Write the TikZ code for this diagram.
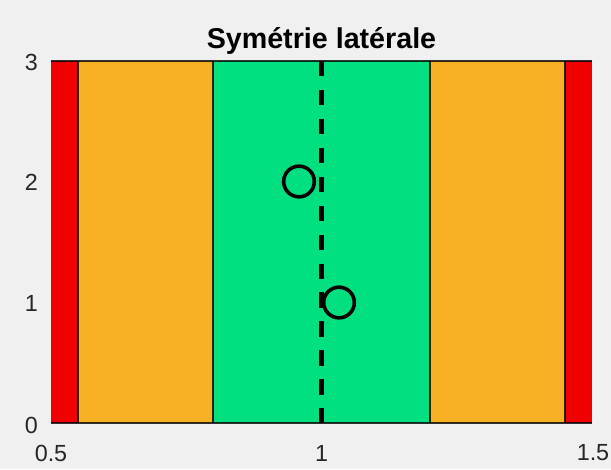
\documentclass[tikz,border=0pt]{standalone}
\usepackage{fontspec}
\setmainfont{Liberation Sans}
\definecolor{figbg}{RGB}{240,240,240}
\definecolor{zonered}{RGB}{240,0,0}
\definecolor{zoneorange}{RGB}{248,176,36}
\definecolor{zonegreen}{RGB}{0,224,128}
\definecolor{ticktext}{RGB}{38,38,38}
\tikzset{
  ticklabel/.style={inner sep=0pt, text=ticktext, font=\fontsize{17.5}{20}\selectfont},
  zoneedge/.style={draw=black, draw opacity=0.8, line width=1.1pt},
  marker/.style={draw=black, line width=2.7pt},
}
\begin{document}
\begin{tikzpicture}[x=0.75pt, y=-0.75pt]
  % figure background and page size
  \fill[figbg] (0,0) rectangle (611,469);
  \useasboundingbox (0,0) rectangle (611,469);

  % axis range: x 0.5..1.5 -> 51..592, y 0..3 -> 423..61
  \coordinate (tl) at (51,61);
  \coordinate (br) at (592,423);

  % coloured zones
  \fill[zonered]    (51,61)  rectangle (78,423);
  \fill[zoneorange] (78,61)  rectangle (213,423);
  \fill[zonegreen]  (213,61) rectangle (430,423);
  \fill[zoneorange] (430,61) rectangle (565,423);
  \fill[zonered]    (565,61) rectangle (592,423);

  % zone borders
  \draw[zoneedge] (51,61) -- (592,61);
  \draw[zoneedge] (51,423) -- (592,423);
  \foreach \xb in {78,213,430,565} {
    \draw[zoneedge] (\xb,61) -- (\xb,423);
  }

  % symmetry axis at x = 1
  \coordinate (axtop) at (321.5,61);
  \coordinate (axbot) at (321.5,423);
  \draw[black, line width=3.3pt, dash pattern=on 11.6pt off 10.1pt] (axtop) -- (axbot);

  % data points
  \node[marker, circle, minimum size=23pt, inner sep=0pt] (p1) at (299,181.5) {};
  \node[marker, circle, minimum size=23pt, inner sep=0pt] (p2) at (339,302.5) {};

  % title
  \node[anchor=base, inner sep=0pt, font=\bfseries\fontsize{21.5}{24}\selectfont] (title) at (321.5,48) {Symétrie latérale};

  % y tick labels
  \node[ticklabel, anchor=east] (y3) at (38,62) {3};
  \node[ticklabel, anchor=east] (y2) at (38,182.5) {2};
  \node[ticklabel, anchor=east] (y1) at (38,303) {1};
  \node[ticklabel, anchor=east] (y0) at (38,425.5) {0};

  % x tick labels
  \node[ticklabel] (x05) at (51,453) {0.5};
  \node[ticklabel] (x10) at (321.5,453) {1};
  \node[ticklabel] (x15) at (593,453) {1.5};
\end{tikzpicture}
\end{document}
